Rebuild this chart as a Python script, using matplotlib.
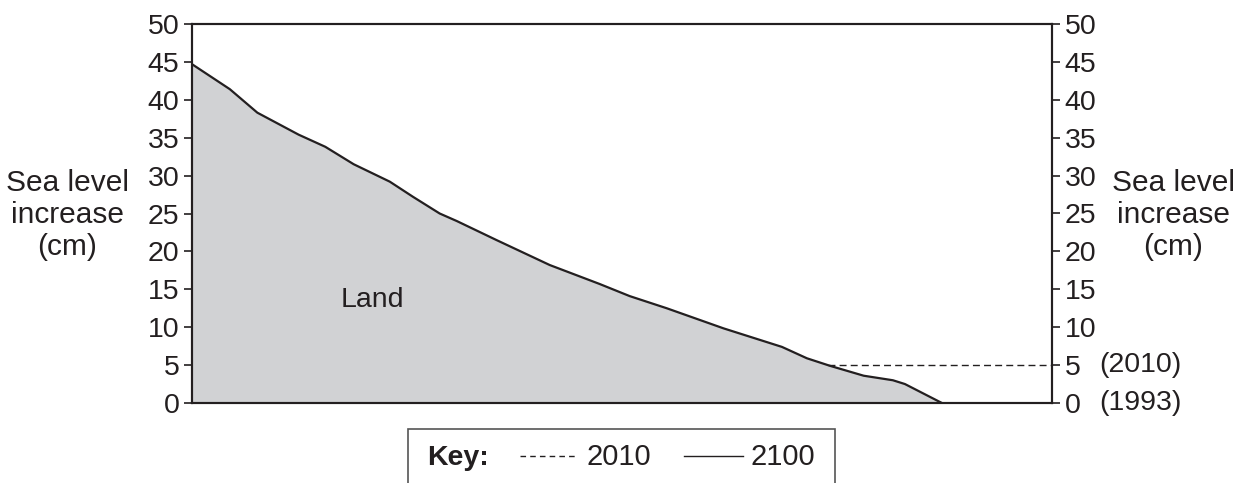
import numpy as np
import matplotlib
matplotlib.use("Agg")
import matplotlib.pyplot as plt
from matplotlib.patches import Rectangle
from matplotlib.lines import Line2D

plt.rcParams['font.family'] = ['Liberation Sans', 'DejaVu Sans']

# distance inland (arbitrary units 0-100) vs land height above 1993 sea level (cm)
distance = [0, 4.4, 7.6, 12.4, 15.5, 18.8, 23.0, 25.7, 28.8, 30.8, 35.4, 41.6,
            47.4, 50.9, 55.2, 61.8, 68.6, 71.5, 74.2, 78.1, 81.5, 82.9, 87.2]
land_height = [44.7, 41.4, 38.3, 35.4, 33.8, 31.5, 29.2, 27.2, 25.0, 24.0, 21.5, 18.2,
               15.7, 14.1, 12.5, 9.85, 7.4, 5.9, 4.9, 3.6, 3.0, 2.5, 0.0]
rise_2010 = 5
yticks = [0, 5, 10, 15, 20, 25, 30, 35, 40, 45, 50]
ink = '#231f20'
land_col = '#d1d2d4'

W, H = 1244, 483
fig = plt.figure(figsize=(W / 100, H / 100), dpi=100)
ax = fig.add_axes([192 / W, 1 - 403 / H, (1052 - 192) / W, (403 - 24) / H])

ax.fill_between(distance, land_height, 0, color=land_col, lw=0)
ax.plot(distance, land_height, color=ink, lw=1.6, solid_joinstyle='round')

# 2010 sea level: dashed line from where it meets the land to the right edge
x_start = np.interp(rise_2010, land_height[::-1], distance[::-1])
ax.plot([x_start, 100], [rise_2010, rise_2010], color=ink, lw=1.0, ls=(0, (5, 3)))

ax.text(21.0, 13.6, 'Land', fontsize=20.5, color=ink, ha='center', va='center')

ax.set_xlim(0, 100)
ax.set_ylim(0, 50)
ax.set_xticks([])
ax.set_yticks(yticks)
ax.tick_params(axis='y', direction='out', length=6, width=1.2, pad=3,
               labelsize=20.5, colors=ink)
for s in ax.spines.values():
    s.set_linewidth(1.5)
    s.set_color(ink)

ax.set_ylabel('Sea level\nincrease\n(cm)', rotation=0, fontsize=21.5, color=ink,
              ha='center', va='center', multialignment='center')
ax.yaxis.set_label_coords(-0.145, 0.496)

ax2 = ax.twinx()
ax2.set_ylim(0, 50)
ax2.set_yticks(yticks)
ax2.tick_params(axis='y', direction='out', length=6, width=1.2, pad=3,
                labelsize=20.5, colors=ink)
for s in ax2.spines.values():
    s.set_linewidth(1.5)
    s.set_color(ink)
ax2.set_ylabel('Sea level\nincrease\n(cm)', rotation=0, fontsize=21.5, color=ink,
               ha='center', va='center', multialignment='center')
ax2.yaxis.set_label_coords(1.1407, 0.496)

ax2.text((1099 - 192) / 860, 5, '(2010)', fontsize=20.5, color=ink,
         transform=ax2.get_yaxis_transform(), ha='left', va='center')
ax2.text((1099 - 192) / 860, 0, '(1993)', fontsize=20.5, color=ink,
         transform=ax2.get_yaxis_transform(), ha='left', va='center')

# key box below the chart
fig.add_artist(Rectangle((408 / W, -0.1), (835 - 408) / W, 0.1 + (483 - 429) / H,
                         transform=fig.transFigure, fill=False, lw=1.2, ec='#555555'))
ky = 1 - 465 / H
ly = 1 - 456 / H
fig.text(427 / W, ky, 'Key:', fontsize=20.5, fontweight='bold', color=ink, va='baseline')
fig.add_artist(Line2D([520 / W, 578 / W], [ly, ly], transform=fig.transFigure,
                      color=ink, lw=1.0, ls=(0, (4, 3))))
fig.text(587 / W, ky, '2010', fontsize=21, color=ink, va='baseline')
fig.add_artist(Line2D([684 / W, 743 / W], [ly, ly], transform=fig.transFigure,
                      color=ink, lw=1.0))
fig.text(751 / W, ky, '2100', fontsize=21, color=ink, va='baseline')

fig.savefig('out.png', dpi=100)
